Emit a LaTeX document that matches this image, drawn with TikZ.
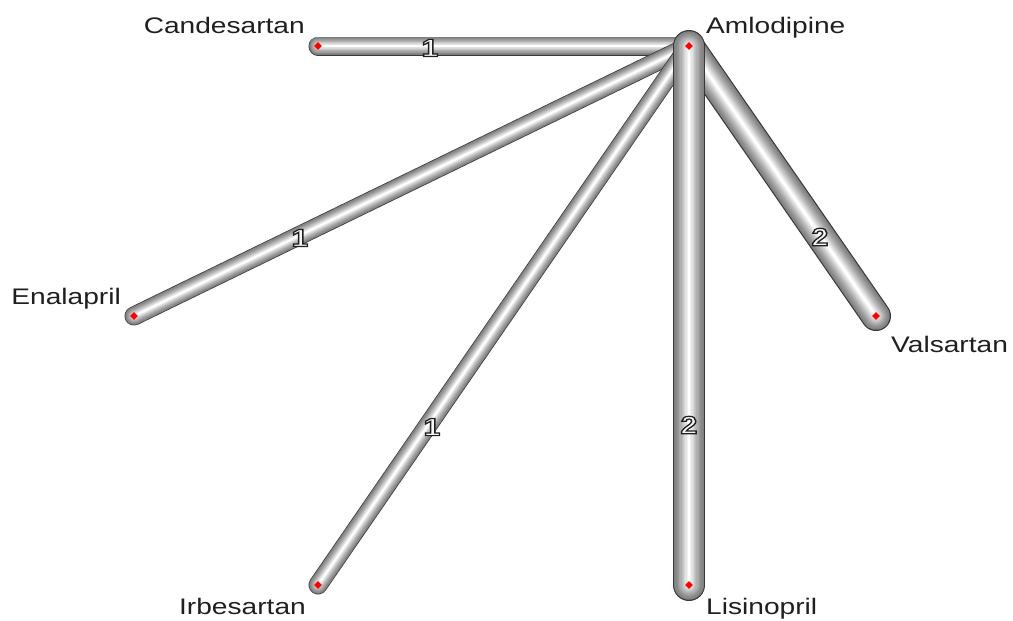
\documentclass[tikz,border=0pt]{standalone}
\usepackage{fontspec}
\setmainfont{Liberation Sans}
\usepackage{graphicx}
\usetikzlibrary{shapes.geometric}
\pgfdeclarelayer{background}
\pgfsetlayers{background,main}
\newcommand\wide[1]{\scalebox{1.2}[1]{#1}}
\newcommand\outl[1]{\special{pdf:literal direct 2 Tr 1.2 w 0.12 G}#1\special{pdf:literal direct 0 Tr}}
\newcommand\tube[3]{%
  \foreach \i in {0,...,12}{%
    \pgfmathsetmacro\ww{#3*(1-\i/13)}%
    \pgfmathsetmacro\cc{ifthenelse(\i==0,22,48+52*(\i/12)^1.3)}%
    \draw[line width=\ww pt, line cap=round, color=white!\cc!black] (#1.center) -- (#2.center);
  }}
\tikzset{
  reddot/.style={diamond, fill=red, inner sep=0pt, minimum size=8pt},
  drug/.style={inner sep=0pt, text=black!88, font=\fontsize{22.5}{26}\selectfont},
  elab/.style={inner sep=0pt, text=white!92!gray, font=\bfseries\fontsize{25}{28}\selectfont}
}
\begin{document}
\begin{tikzpicture}[x=1pt, y=-1pt]
\useasboundingbox (0,0) rectangle (1013,621);
% node positions
\node[reddot] (amlo) at (689,46) {};
\node[reddot] (cand) at (318,46) {};
\node[reddot] (enal) at (134,316) {};
\node[reddot] (vals) at (876,316) {};
\node[reddot] (irbe) at (318,585) {};
\node[reddot] (lisi) at (689,585) {};
% drug names
\node[drug, anchor=base west] (tamlo) at (706,34) {\scalebox{1.25}[1]{Amlodipine}};
\node[drug, anchor=base east] (tcand) at (305,34) {\scalebox{1.25}[1]{Candesartan}};
\node[drug, anchor=base east] (tenal) at (121,304) {\scalebox{1.25}[1]{Enalapril}};
\node[drug, anchor=base west] (tvals) at (891,352) {\scalebox{1.25}[1]{Valsartan}};
\node[drug, anchor=base east] (tirbe) at (306,614) {\scalebox{1.25}[1]{Irbesartan}};
\node[drug, anchor=base west] (tlisi) at (706,614) {\scalebox{1.25}[1]{Lisinopril}};
% tubes
\begin{pgfonlayer}{background}
\tube{cand}{amlo}{19}
\tube{enal}{amlo}{19}
\tube{irbe}{amlo}{19}
\tube{vals}{amlo}{30}
\tube{lisi}{amlo}{32}
\end{pgfonlayer}
% edge labels
\node[elab] (l1) at (430,48) {\wide{\outl{1}}};
\node[elab] (l2) at (300,238) {\wide{\outl{1}}};
\node[elab] (l3) at (432,427) {\wide{\outl{1}}};
\node[elab] (l4) at (689,425) {\wide{\outl{2}}};
\node[elab] (l5) at (820,237) {\wide{\outl{2}}};
\end{tikzpicture}
\end{document}
